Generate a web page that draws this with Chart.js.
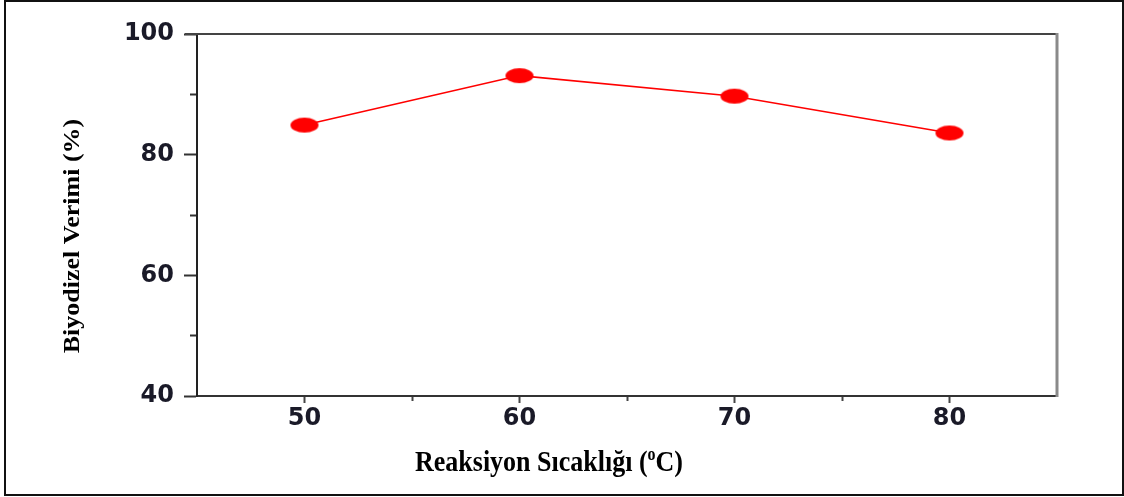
<!DOCTYPE html>
<html>
<head>
<meta charset="utf-8">
<script src="https://cdn.jsdelivr.net/npm/chart.js@4"></script>
<style>
  html, body { margin: 0; padding: 0; background: #fff; }
  #wrap { position: relative; width: 1124px; height: 497px; overflow: hidden; }
  #frame { position: absolute; left: 4px; top: 0px; width: 1120px; height: 496px;
           box-sizing: border-box; border: 2px solid #111; pointer-events: none; }
  canvas { position: absolute; left: 0; top: 0; }
</style>
</head>
<body>
<div id="wrap">
  <canvas id="c" width="1124" height="497"></canvas>
  <div id="frame"></div>
</div>
<script>
// Reaction temperature (°C) and biodiesel yield (%)
const temperatures = [50, 60, 70, 80];
const yields = [84.9, 93.1, 89.7, 83.6];

// Axis ranges and labelled tick values
const xRange = [45, 85];
const yRange = [40, 100];
const xLabelTicks = [50, 60, 70, 80];
const yLabelTicks = [40, 60, 80, 100];

const xTitleMain = 'Reaksiyon Sıcaklığı (';
const xTitleSup = 'o';
const xTitleEnd = 'C)';
const yTitle = 'Biyodizel Verimi (%)';

// Elliptical marker image
function ellipseMarker(w, h, color) {
  const cv = document.createElement('canvas');
  cv.width = w + 2; cv.height = h + 2;
  const g = cv.getContext('2d');
  g.fillStyle = color;
  g.beginPath();
  g.ellipse(cv.width / 2, cv.height / 2, w / 2, h / 2, 0, 0, Math.PI * 2);
  g.fill();
  return cv;
}
const marker = ellipseMarker(28, 15, '#ff0000');

// Top/right frame of the plot box and the axis titles
const framePlugin = {
  id: 'boxAndTitles',
  afterDraw(chart) {
    const { ctx, chartArea: a } = chart;
    ctx.save();
    ctx.lineCap = 'butt';
    ctx.strokeStyle = '#444';
    ctx.lineWidth = 2;
    ctx.beginPath();
    ctx.moveTo(a.left - 12, a.top);
    ctx.lineTo(a.right, a.top);
    ctx.stroke();
    ctx.strokeStyle = '#8a8a8a';
    ctx.lineWidth = 3;
    ctx.beginPath();
    ctx.moveTo(a.right, a.top - 1);
    ctx.lineTo(a.right, a.bottom + 1);
    ctx.stroke();

    // x title with superscript, slightly tall lettering
    ctx.fillStyle = '#000';
    ctx.textBaseline = 'alphabetic';
    ctx.textAlign = 'left';
    const mainFont = 'bold 26px "Liberation Serif", "Times New Roman", serif';
    const supFont = 'bold 16px "Liberation Serif", "Times New Roman", serif';
    ctx.font = mainFont;
    const w1 = ctx.measureText(xTitleMain).width;
    const w3 = ctx.measureText(xTitleEnd).width;
    ctx.font = supFont;
    const w2 = ctx.measureText(xTitleSup).width;
    const total = w1 + w2 + w3;
    ctx.save();
    ctx.translate(a.left + 352 - total / 2, a.bottom + 75);
    ctx.scale(1, 1.12);
    let x = 0;
    ctx.font = mainFont;
    ctx.fillText(xTitleMain, x, 0);
    x += w1;
    ctx.font = supFont;
    ctx.fillText(xTitleSup, x, -10);
    x += w2;
    ctx.font = mainFont;
    ctx.fillText(xTitleEnd, x, 0);
    ctx.restore();

    // y title, rotated
    ctx.save();
    ctx.translate(a.left - 124, (a.top + a.bottom) / 2 + 21);
    ctx.rotate(-Math.PI / 2);
    ctx.scale(1, 0.85);
    ctx.font = mainFont;
    ctx.textAlign = 'center';
    ctx.textBaseline = 'middle';
    ctx.fillText(yTitle, 0, 0);
    ctx.restore();
    ctx.restore();
  }
};

const tickFont = { family: '"DejaVu Sans", sans-serif', size: 24, weight: 'bold' };

new Chart(document.getElementById('c'), {
  type: 'line',
  data: {
    datasets: [{
      data: temperatures.map((t, i) => ({ x: t, y: yields[i] })),
      borderColor: '#ff0000',
      borderWidth: 1.5,
      pointStyle: marker,
      pointRadius: 8,
      pointHoverRadius: 8,
      backgroundColor: '#ff0000',
      tension: 0
    }]
  },
  options: {
    responsive: false,
    animation: false,
    events: [],
    layout: { padding: { top: 34, right: 67, left: 0, bottom: 0 } },
    plugins: { legend: { display: false }, tooltip: { enabled: false }, title: { display: false } },
    scales: {
      x: {
        type: 'linear',
        min: xRange[0], max: xRange[1],
        afterFit(s) { s.height = 101; },
        border: { display: true, color: '#333', width: 2 },
        grid: {
          display: true, drawOnChartArea: false, drawTicks: true,
          tickLength: 7, tickWidth: 2,
          tickColor: (c) => (c.tick && (c.tick.value === xRange[0] || c.tick.value === xRange[1])) ? 'rgba(0,0,0,0)' : '#444',
          tickBorderDash: (c) => (c.tick && !xLabelTicks.includes(c.tick.value)) ? [4, 100] : []
        },
        ticks: {
          stepSize: 5, autoSkip: false, maxRotation: 0, padding: 1,
          color: '#1a1a28', font: tickFont,
          callback: (v) => xLabelTicks.includes(v) ? String(v) : ''
        }
      },
      y: {
        type: 'linear',
        min: yRange[0], max: yRange[1],
        afterFit(s) { s.width = 197; },
        border: { display: true, color: '#222', width: 2 },
        grid: {
          display: true, drawOnChartArea: false, drawTicks: true,
          tickLength: 13, tickWidth: 2, tickColor: '#333',
          tickBorderDash: (c) => (c.tick && !yLabelTicks.includes(c.tick.value)) ? [0, 6, 7, 100] : []
        },
        ticks: {
          stepSize: 10, autoSkip: false, padding: 10,
          color: '#1a1a28', font: tickFont,
          callback: (v) => yLabelTicks.includes(v) ? String(v) : ''
        }
      }
    }
  },
  plugins: [framePlugin]
});
</script>
</body>
</html>
